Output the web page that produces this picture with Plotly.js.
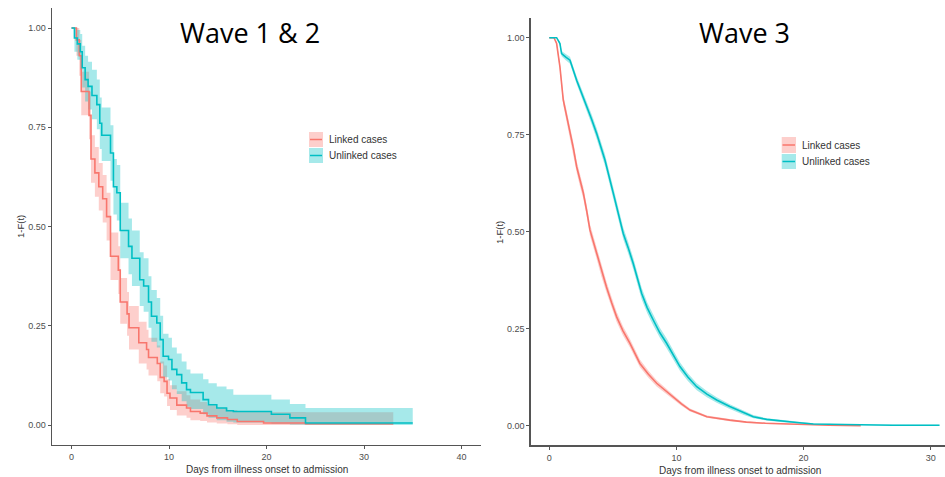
<!DOCTYPE html>
<html><head><meta charset="utf-8">
<script src="https://cdn.plot.ly/plotly-3.0.1.min.js"></script>
<style>html,body{margin:0;padding:0;background:#fff}#c{width:945px;height:477px}</style>
</head><body><div id="c"></div>
<script>
// ---- Wave 1 & 2 ----
const w12LinkedT = [0, 0.5, 0.8, 1.0, 1.8, 2.0, 2.4, 2.8, 3.2, 3.6, 4.0, 4.8, 5.0, 5.7, 5.9, 6.9, 7.7, 7.9, 8.8, 9.1, 9.5, 9.8, 10.1, 10.8, 11.8, 12.2, 13.2, 13.9, 14.9, 16.0, 17.0, 19.7, 24.0, 33.0];
const w12LinkedS = [1, 0.97, 0.93, 0.84, 0.78, 0.67, 0.635, 0.60, 0.57, 0.525, 0.425, 0.39, 0.31, 0.28, 0.245, 0.207, 0.19, 0.17, 0.155, 0.12, 0.11, 0.08, 0.068, 0.05, 0.043, 0.034, 0.03, 0.023, 0.018, 0.014, 0.009, 0.005, 0.003, 0.003];
const w12LinkedUp = [1, 1, 0.97, 0.89, 0.84, 0.73, 0.70, 0.66, 0.63, 0.585, 0.485, 0.45, 0.37, 0.335, 0.30, 0.26, 0.24, 0.22, 0.20, 0.16, 0.15, 0.115, 0.10, 0.085, 0.075, 0.064, 0.058, 0.05, 0.042, 0.038, 0.034, 0.033, 0.032, 0.032];
const w12LinkedLo = [1, 0.93, 0.88, 0.78, 0.72, 0.61, 0.575, 0.54, 0.51, 0.465, 0.365, 0.33, 0.255, 0.225, 0.19, 0.155, 0.14, 0.125, 0.11, 0.08, 0.072, 0.048, 0.038, 0.024, 0.018, 0.012, 0.01, 0.006, 0.004, 0.002, 0, 0, 0, 0];

const w12UnlinkedT = [0, 0.3, 0.6, 0.9, 1.1, 1.4, 1.7, 2.1, 2.6, 2.9, 3.1, 4.0, 4.3, 4.65, 5.0, 5.85, 6.2, 7.0, 7.4, 7.9, 8.2, 8.75, 9.1, 9.4, 9.95, 10.3, 10.8, 11.3, 11.8, 12.2, 13.5, 14.05, 14.9, 15.9, 16.6, 20.5, 22.4, 24.0, 35.0];
const w12UnlinkedS = [1, 0.975, 0.96, 0.94, 0.90, 0.87, 0.853, 0.83, 0.807, 0.76, 0.73, 0.685, 0.60, 0.585, 0.49, 0.45, 0.42, 0.366, 0.35, 0.31, 0.274, 0.257, 0.215, 0.173, 0.165, 0.14, 0.127, 0.106, 0.089, 0.082, 0.064, 0.051, 0.043, 0.036, 0.034, 0.027, 0.018, 0.005, 0.005];
const w12UnlinkedUp = [1, 1, 0.995, 0.985, 0.955, 0.93, 0.915, 0.895, 0.87, 0.825, 0.80, 0.755, 0.67, 0.655, 0.56, 0.52, 0.49, 0.435, 0.42, 0.375, 0.34, 0.32, 0.275, 0.23, 0.22, 0.195, 0.18, 0.16, 0.14, 0.13, 0.115, 0.105, 0.097, 0.09, 0.076, 0.064, 0.053, 0.043, 0.043];
const w12UnlinkedLo = [1, 0.94, 0.92, 0.895, 0.85, 0.815, 0.795, 0.77, 0.745, 0.695, 0.665, 0.615, 0.53, 0.515, 0.42, 0.38, 0.35, 0.30, 0.285, 0.245, 0.21, 0.195, 0.155, 0.12, 0.112, 0.09, 0.078, 0.06, 0.046, 0.04, 0.027, 0.018, 0.012, 0.008, 0.006, 0.003, 0.001, 0, 0];

// ---- Wave 3 ----
const w3LinkedT = [0, 0.37, 0.58, 0.84, 1.1, 1.35, 1.63, 1.9, 2.16, 2.42, 2.68, 2.94, 3.2, 3.73, 4.1, 4.5, 4.9, 5.3, 5.8, 6.35, 7.13, 7.8, 8.45, 9.1, 9.73, 10.4, 11.07, 12.4, 14.2, 15.5, 17.0, 19.5, 22.0, 24.5];
const w3LinkedS = [1, 1, 0.985, 0.925, 0.84, 0.80, 0.762, 0.715, 0.667, 0.632, 0.60, 0.555, 0.505, 0.445, 0.40, 0.358, 0.318, 0.281, 0.245, 0.213, 0.161, 0.133, 0.11, 0.092, 0.075, 0.057, 0.041, 0.024, 0.015, 0.01, 0.007, 0.004, 0.002, 0.001];
const w3LinkedUp = [1, 1, 0.99, 0.935, 0.853, 0.815, 0.777, 0.73, 0.682, 0.647, 0.615, 0.57, 0.52, 0.46, 0.415, 0.372, 0.332, 0.294, 0.257, 0.224, 0.171, 0.142, 0.118, 0.099, 0.081, 0.062, 0.045, 0.027, 0.018, 0.012, 0.009, 0.005, 0.003, 0.002];
const w3LinkedLo = [1, 1, 0.98, 0.915, 0.827, 0.785, 0.747, 0.70, 0.652, 0.617, 0.585, 0.54, 0.49, 0.43, 0.385, 0.344, 0.304, 0.268, 0.233, 0.202, 0.151, 0.124, 0.102, 0.085, 0.069, 0.052, 0.037, 0.021, 0.012, 0.008, 0.005, 0.003, 0.001, 0];

const w3UnlinkedT = [0, 0.58, 0.84, 0.97, 1.3, 1.63, 2.16, 2.55, 2.94, 3.33, 3.73, 4.38, 5.04, 5.43, 5.82, 6.2, 6.6, 7.27, 7.7, 8.18, 8.7, 9.23, 9.76, 10.28, 10.9, 11.6, 12.4, 13.17, 14.2, 15.26, 16.05, 17.1, 18.15, 19.46, 20.77, 23.4, 27.0, 30.7];
const w3UnlinkedS = [1, 1, 0.985, 0.959, 0.95, 0.942, 0.89, 0.858, 0.822, 0.79, 0.753, 0.685, 0.599, 0.55, 0.496, 0.46, 0.419, 0.341, 0.305, 0.273, 0.24, 0.213, 0.182, 0.153, 0.126, 0.101, 0.082, 0.067, 0.05, 0.034, 0.024, 0.017, 0.013, 0.009, 0.005, 0.003, 0.002, 0.002];
const w3UnlinkedUp = [1, 1, 0.99, 0.966, 0.958, 0.951, 0.9, 0.869, 0.834, 0.803, 0.767, 0.7, 0.614, 0.565, 0.511, 0.475, 0.434, 0.356, 0.319, 0.287, 0.253, 0.226, 0.194, 0.164, 0.136, 0.11, 0.09, 0.074, 0.056, 0.039, 0.028, 0.02, 0.016, 0.011, 0.007, 0.004, 0.003, 0.003];
const w3UnlinkedLo = [1, 1, 0.98, 0.952, 0.942, 0.933, 0.88, 0.847, 0.81, 0.777, 0.739, 0.67, 0.584, 0.535, 0.481, 0.445, 0.404, 0.326, 0.291, 0.259, 0.227, 0.2, 0.17, 0.142, 0.116, 0.092, 0.074, 0.06, 0.044, 0.029, 0.02, 0.014, 0.01, 0.007, 0.003, 0.002, 0.001, 0.001];

const seriesNames = ["Linked cases", "Unlinked cases"];
const panelTitles = ["Wave 1 & 2", "Wave 3"];
const yTickVals = [0, 0.25, 0.5, 0.75, 1];
const xTickVals12 = [0, 10, 20, 30, 40];
const xTickVals3 = [0, 10, 20, 30];
const xTitle = "Days from illness onset to admission";
const yTitle = "1-F(t)";

const RED = "#F8766D", TEAL = "#00BFC4";
const RED_F = "rgba(248,118,109,0.35)", TEAL_F = "rgba(0,191,196,0.35)";

function ribbon(t, lo, up, fillc, xa, ya, shape) {
  return [
    {x: t, y: lo, type: "scatter", mode: "lines", line: {width: 0, shape: shape}, xaxis: xa, yaxis: ya, showlegend: false, hoverinfo: "skip"},
    {x: t, y: up, type: "scatter", mode: "lines", line: {width: 0, shape: shape}, fill: "tonexty", fillcolor: fillc, xaxis: xa, yaxis: ya, showlegend: false, hoverinfo: "skip"}
  ];
}
function curve(t, s, col, xa, ya, shape, name) {
  return {x: t, y: s, type: "scatter", mode: "lines", name: name, line: {color: col, width: 1.6, shape: shape}, xaxis: xa, yaxis: ya, showlegend: false};
}

const data = [].concat(
  ribbon(w12LinkedT, w12LinkedLo, w12LinkedUp, RED_F, "x", "y", "hv"),
  ribbon(w12UnlinkedT, w12UnlinkedLo, w12UnlinkedUp, TEAL_F, "x", "y", "hv"),
  [curve(w12LinkedT, w12LinkedS, RED, "x", "y", "hv", seriesNames[0]),
   curve(w12UnlinkedT, w12UnlinkedS, TEAL, "x", "y", "hv", seriesNames[1])],
  ribbon(w3LinkedT, w3LinkedLo, w3LinkedUp, RED_F, "x2", "y2", "linear"),
  ribbon(w3UnlinkedT, w3UnlinkedLo, w3UnlinkedUp, TEAL_F, "x2", "y2", "linear"),
  [curve(w3LinkedT, w3LinkedS, RED, "x2", "y2", "linear", seriesNames[0]),
   curve(w3UnlinkedT, w3UnlinkedS, TEAL, "x2", "y2", "linear", seriesNames[1])]
);

const W = 945, H = 477;
const px = v => v / W, py = v => 1 - v / H;
const tickFont = {family: "Liberation Sans, Arial, sans-serif", size: 9, color: "#4d4d4d"};
const axisCommon = {showgrid: false, zeroline: false, showline: true, linecolor: "#555", linewidth: 1.3,
  ticks: "outside", ticklen: 3, tickcolor: "#555", tickwidth: 1, tickfont: tickFont, fixedrange: true};
const smallFont = {family: "Liberation Sans, Arial", size: 10, color: "#333"};

const layout = {
  width: W, height: H, margin: {l: 0, r: 0, t: 0, b: 0},
  paper_bgcolor: "#fff", plot_bgcolor: "#fff", showlegend: false,
  xaxis: Object.assign({}, axisCommon, {domain: [px(52), px(481)], range: [-2, 42], tickvals: xTickVals12, anchor: "y"}),
  yaxis: Object.assign({}, axisCommon, {domain: [(H - 444.85) / H, (H - 8.15) / H], range: [-0.05, 1.05], tickvals: yTickVals, tickformat: ".2f", anchor: "x"}),
  xaxis2: Object.assign({}, axisCommon, {domain: [px(530.7), 1], range: [-1.46, 31.13], tickvals: xTickVals3, anchor: "y2"}),
  yaxis2: Object.assign({}, axisCommon, {domain: [(H - 445.4) / H, (H - 18.3) / H], range: [-0.05, 1.05], tickvals: yTickVals, tickformat: ".2f", anchor: "x2"}),
  annotations: [
    {text: panelTitles[0], x: px(250), y: py(33), xref: "paper", yref: "paper", showarrow: false, xanchor: "center", yanchor: "middle", font: {family: "Open Sans, Noto Sans, sans-serif", size: 27, color: "#000"}},
    {text: panelTitles[1], x: px(744), y: py(32), xref: "paper", yref: "paper", showarrow: false, xanchor: "center", yanchor: "middle", font: {family: "Open Sans, Noto Sans, sans-serif", size: 27, color: "#000"}},
    {text: yTitle, x: px(21), y: py(227), xref: "paper", yref: "paper", showarrow: false, textangle: -90, xanchor: "center", yanchor: "middle", font: {family: "Liberation Sans, Arial", size: 9.5, color: "#333"}},
    {text: yTitle, x: px(500), y: py(233), xref: "paper", yref: "paper", showarrow: false, textangle: -90, xanchor: "center", yanchor: "middle", font: {family: "Liberation Sans, Arial", size: 9.5, color: "#333"}},
    {text: xTitle, x: px(267), y: py(469), xref: "paper", yref: "paper", showarrow: false, xanchor: "center", yanchor: "middle", font: smallFont},
    {text: xTitle, x: px(740), y: py(470), xref: "paper", yref: "paper", showarrow: false, xanchor: "center", yanchor: "middle", font: smallFont},
    {text: seriesNames[0], x: px(327), y: py(139.5), xref: "paper", yref: "paper", showarrow: false, xanchor: "left", yanchor: "middle", font: smallFont},
    {text: seriesNames[1], x: px(327), y: py(155.5), xref: "paper", yref: "paper", showarrow: false, xanchor: "left", yanchor: "middle", font: smallFont},
    {text: seriesNames[0], x: px(799.5), y: py(145), xref: "paper", yref: "paper", showarrow: false, xanchor: "left", yanchor: "middle", font: smallFont},
    {text: seriesNames[1], x: px(799.5), y: py(161.5), xref: "paper", yref: "paper", showarrow: false, xanchor: "left", yanchor: "middle", font: smallFont}
  ],
  shapes: [
    {type: "rect", xref: "paper", yref: "paper", x0: px(309), x1: px(323), y0: py(147), y1: py(132), fillcolor: RED_F, line: {width: 0}},
    {type: "rect", xref: "paper", yref: "paper", x0: px(309), x1: px(323), y0: py(163), y1: py(148), fillcolor: TEAL_F, line: {width: 0}},
    {type: "line", xref: "paper", yref: "paper", x0: px(310), x1: px(322), y0: py(139.5), y1: py(139.5), line: {color: RED, width: 1.5}},
    {type: "line", xref: "paper", yref: "paper", x0: px(310), x1: px(322), y0: py(155.5), y1: py(155.5), line: {color: TEAL, width: 1.5}},
    {type: "rect", xref: "paper", yref: "paper", x0: px(781.7), x1: px(796), y0: py(153), y1: py(137), fillcolor: RED_F, line: {width: 0}},
    {type: "rect", xref: "paper", yref: "paper", x0: px(781.7), x1: px(796), y0: py(169), y1: py(154), fillcolor: TEAL_F, line: {width: 0}},
    {type: "line", xref: "paper", yref: "paper", x0: px(782.5), x1: px(795), y0: py(145), y1: py(145), line: {color: RED, width: 1.5}},
    {type: "line", xref: "paper", yref: "paper", x0: px(782.5), x1: px(795), y0: py(161.5), y1: py(161.5), line: {color: TEAL, width: 1.5}}
  ]
};

Plotly.newPlot("c", data, layout, {displayModeBar: false, staticPlot: true});
</script></body></html>
